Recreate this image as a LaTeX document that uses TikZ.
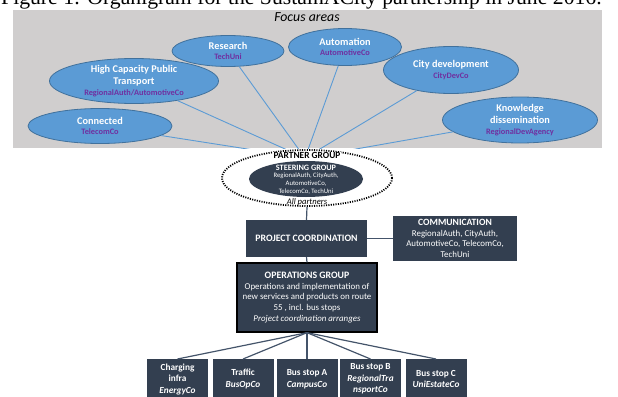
\documentclass[tikz,border=0pt]{standalone}
\usepackage{fontspec}
\setmainfont{Carlito}
\newfontfamily\capfont{Liberation Serif}
\usetikzlibrary{shapes.geometric}
\definecolor{areafill}{HTML}{5B9BD5}
\definecolor{areadraw}{HTML}{41719C}
\definecolor{orgpurple}{HTML}{7030A0}
\definecolor{navy}{HTML}{333F50}
\definecolor{bggray}{HTML}{D0CECE}
\definecolor{linkgray}{HTML}{44546A}
\newcommand{\who}[1]{{\color{orgpurple}\fontsize{8.3}{9}\selectfont #1}}
\begin{document}
\begin{tikzpicture}[x=1pt,y=-1pt,
  area/.style={ellipse, fill=areafill, draw=areadraw, line width=0.8pt, inner sep=0pt,
    align=center, text=white, font=\bfseries\fontsize{10.3}{12}\selectfont},
  arealine/.style={draw=areafill, line width=0.9pt},
  navybox/.style={rectangle, fill=navy, text=white, inner sep=0pt, align=center},
  orgline/.style={draw=linkgray, line width=1.2pt},
  stopbox/.style={navybox, minimum width=61, minimum height=40, anchor=north,
    font=\bfseries\fontsize{9.3}{11.5}\selectfont}
]
\useasboundingbox (0,0) rectangle (618,396);

% caption (cut off at the top)
\node[anchor=base west, inner sep=0pt, font=\capfont\fontsize{21.7}{24}\selectfont] (cap) at (1,5)
  {Figure 1: Organigram for the SustainACity partnership in June 2016.};

% focus area panel
\fill[bggray] (13,10) rectangle (602,148);
\node[font=\itshape\fontsize{13.8}{15}\selectfont] (focus) at (307,17.5) {Focus areas};

\node[area, minimum width=112, minimum height=31] (res) at (228,51)
  {Research\\[-1.5pt]\who{TechUni}};
\node[area, minimum width=113, minimum height=37] (aut) at (345,47)
  {Automation\\[-1.5pt]\who{AutomotiveCo}};
\node[area, minimum width=169, minimum height=45] (hcpt) at (134,81)
  {High Capacity Public\\Transport\\[-1.5pt]\who{RegionalAuth/AutomotiveCo}};
\node[area, minimum width=135, minimum height=47] (city) at (451,70)
  {City development\\[-1.5pt]\who{CityDevCo}};
\node[area, minimum width=144, minimum height=35] (conn) at (100,126)
  {Connected\\[-1.5pt]\who{TelecomCo}};
\node[area, minimum width=155, minimum height=46] (know) at (520,120)
  {Knowledge\\dissemination\\[-1.5pt]\who{RegionalDevAgency}};

\coordinate (hub) at (305,158);
\begin{scope}
  \clip (13,10) rectangle (602,148);
  \foreach \n in {conn,hcpt,res,aut,city,know}
    \draw[arealine] (\n) -- (hub);
\end{scope}

% partner group
\node[ellipse, draw=black, fill=white, line width=1.8pt, dash pattern=on 1.1pt off 1.3pt,
  minimum width=170, minimum height=56, inner sep=0pt] (partner) at (307,178) {};
\node[fill=white, inner xsep=1pt, inner ysep=0.5pt, font=\bfseries\fontsize{9.4}{10}\selectfont]
  (pglabel) at (307,155.5) {PARTNER GROUP};
\node[ellipse, fill=navy, minimum width=114, minimum height=36, inner sep=0pt] (steer) at (306,179) {};
\node[text=white, align=center, inner sep=0pt, font=\fontsize{6.7}{7.8}\selectfont] (steertext) at (306,179.5)
  {{\bfseries\fontsize{8.2}{9}\selectfont STEERING GROUP}\\RegionalAuth, CityAuth,\\AutomotiveCo,\\TelecomCo, TechUni};
\node[inner sep=0pt, font=\itshape\fontsize{8.6}{9}\selectfont] (allp) at (307,202.5) {All partners};

% coordination
\node[navybox, minimum width=121, minimum height=37, font=\bfseries\fontsize{9.8}{10}\selectfont]
  (pc) at (306.5,238.5) {PROJECT COORDINATION};
\node[navybox, minimum width=124, minimum height=45, font=\fontsize{8.9}{10.5}\selectfont]
  (comm) at (455,238.5)
  {{\bfseries\fontsize{9.6}{10.5}\selectfont COMMUNICATION}\\RegionalAuth, CityAuth,\\AutomotiveCo, TelecomCo,\\TechUni};
\node[navybox, draw=black, line width=1.3pt, minimum width=140, minimum height=69,
  font=\fontsize{8.9}{10.8}\selectfont] (ops) at (307,297.5)
  {{\bfseries\fontsize{9.8}{11}\selectfont OPERATIONS GROUP}\\Operations and implementation of\\new services and products on route\\55 , incl. bus stops\\\textit{Project coordination arranges}};

\draw[orgline] (partner.south) -- (pc.north);
\draw[orgline] (pc.east) -- (comm.west);
\draw[orgline] (pc.south) -- (ops.north);

% bus stops
\node[stopbox] (b1) at (177.5,359) {Charging\\infra\\\textit{EnergyCo}};
\node[stopbox] (b2) at (243,359) {Traffic\\\textit{BusOpCo}};
\node[stopbox] (b3) at (307,359) {Bus stop A\\\textit{CampusCo}};
\node[stopbox] (b4) at (370.5,359) {Bus stop B\\\textit{RegionalTra}\\\textit{nsportCo}};
\node[stopbox] (b5) at (436,359) {Bus stop C\\\textit{UniEstateCo}};
\foreach \b in {b1,b2,b3,b4,b5}
  \draw[orgline] (ops.south) -- (\b.north);
\end{tikzpicture}
\end{document}
